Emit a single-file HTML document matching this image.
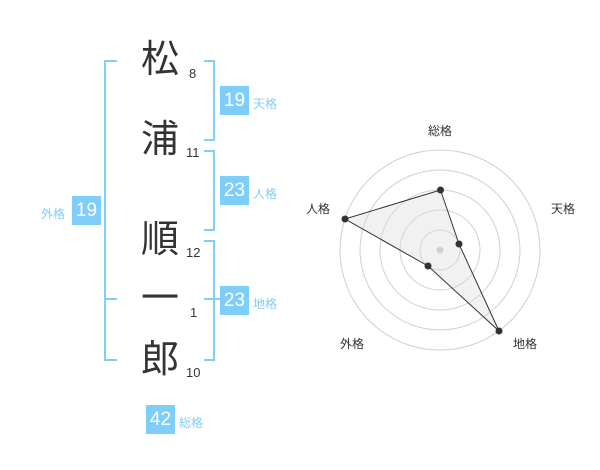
<!DOCTYPE html>
<html><head><meta charset="utf-8"><style>
body{margin:0;width:600px;height:470px;background:#fff;position:relative;overflow:hidden;font-family:"Liberation Sans","Noto Sans CJK JP",sans-serif}
.k{position:absolute;font-size:38px;color:#333;width:50px;text-align:center;line-height:40px}
.n{position:absolute;font-size:13px;color:#333;line-height:14px}
.b{position:absolute;width:29px;height:29px;background:#7fcdf9;color:#fff;font-size:19px;line-height:29px;text-align:center}
.l{position:absolute;font-size:12px;color:#7fcdf9;line-height:14px}
.bar{position:absolute;background:#7fcdf9}
</style></head><body>
<div class="bar" style="left:104px;top:60px;width:2px;height:301px"></div>
<div class="bar" style="left:104px;top:60px;width:13px;height:2px"></div>
<div class="bar" style="left:104px;top:298px;width:13px;height:2px"></div>
<div class="bar" style="left:104px;top:359px;width:13px;height:2px"></div>

<div class="bar" style="left:213px;top:60px;width:2px;height:81px"></div>
<div class="bar" style="left:204px;top:60px;width:10px;height:2px"></div>
<div class="bar" style="left:204px;top:139px;width:10px;height:2px"></div>
<div class="bar" style="left:213px;top:150px;width:2px;height:81px"></div>
<div class="bar" style="left:204px;top:150px;width:10px;height:2px"></div>
<div class="bar" style="left:204px;top:229px;width:10px;height:2px"></div>
<div class="bar" style="left:213px;top:240px;width:2px;height:121px"></div>
<div class="bar" style="left:204px;top:240px;width:10px;height:2px"></div>
<div class="bar" style="left:204px;top:298px;width:16px;height:2px"></div>
<div class="bar" style="left:204px;top:359px;width:10px;height:2px"></div>

<div class="k" style="left:135px;top:40px">松</div>
<div class="k" style="left:135px;top:120px">浦</div>
<div class="k" style="left:135px;top:220px">順</div>
<div class="k" style="left:135px;top:279px">一</div>
<div class="k" style="left:135px;top:340px">郎</div>
<div class="n" style="left:189px;top:67px">8</div>
<div class="n" style="left:186px;top:146px">11</div>
<div class="n" style="left:186px;top:246px">12</div>
<div class="n" style="left:190px;top:306px">1</div>
<div class="n" style="left:186px;top:366px">10</div>

<div class="b" style="left:220px;top:86px">19</div><div class="l" style="left:253px;top:97px">天格</div>
<div class="b" style="left:220px;top:176px">23</div><div class="l" style="left:253px;top:187px">人格</div>
<div class="b" style="left:220px;top:286px">23</div><div class="l" style="left:253px;top:297px">地格</div>
<div class="b" style="left:72px;top:196px">19</div><div class="l" style="left:41px;top:207px">外格</div>
<div class="b" style="left:146px;top:405px">42</div><div class="l" style="left:179px;top:416px">総格</div>

<svg style="position:absolute;left:0;top:0" width="600" height="470">
<g fill="none" stroke="#d0d0d0" stroke-width="1">
<circle cx="440" cy="250" r="20"/><circle cx="440" cy="250" r="40"/><circle cx="440" cy="250" r="60"/><circle cx="440" cy="250" r="80"/><circle cx="440" cy="250" r="100"/>
</g>
<circle cx="440" cy="250" r="3.5" fill="#ccc"/>
<polygon points="440.5,190 459,244 499,331 428,266 345,219" fill="rgba(220,220,220,0.4)" stroke="#333" stroke-width="1"/>
<g fill="#333"><circle cx="440.5" cy="190" r="3.5"/><circle cx="459" cy="244" r="3.5"/><circle cx="499" cy="331" r="3.5"/><circle cx="428" cy="266" r="3.5"/><circle cx="345" cy="219" r="3.5"/></g>
<g font-size="12" fill="#333" text-anchor="middle" font-family="Liberation Sans,Noto Sans CJK JP,sans-serif">
<text x="440" y="135">総格</text><text x="563" y="213">天格</text><text x="318" y="213">人格</text><text x="352" y="348">外格</text><text x="525" y="348">地格</text>
</g>
</svg>
</body></html>
